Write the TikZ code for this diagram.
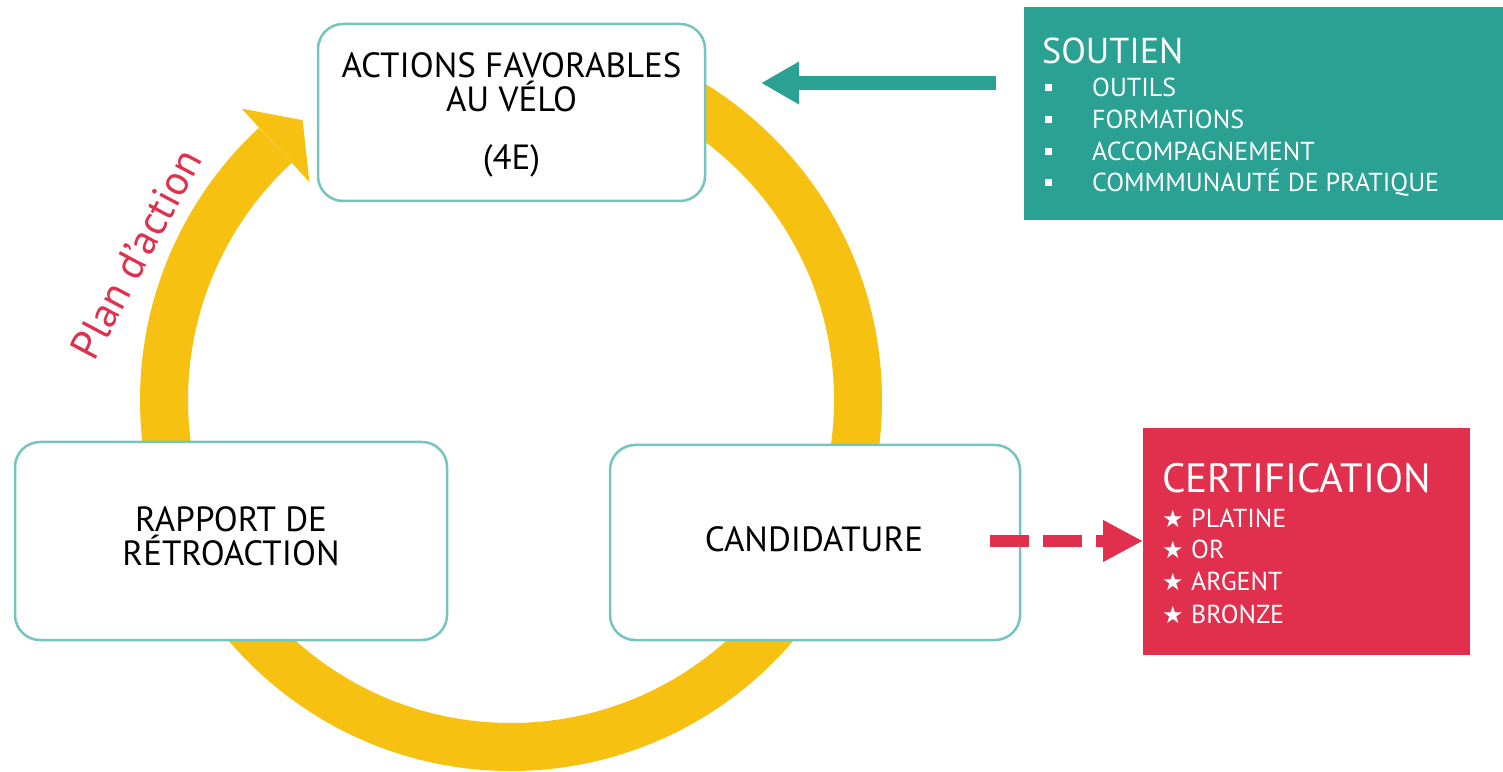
\documentclass[tikz,border=0pt]{standalone}
\usepackage{fontspec}
\setmainfont{PT Sans}
\newfontfamily\symfont{DejaVu Sans}
\usetikzlibrary{arrows.meta}
\definecolor{ylw}{HTML}{F7C111}
\definecolor{tealc}{HTML}{2AA193}
\definecolor{redc}{HTML}{E0304D}
\definecolor{bordc}{HTML}{74C5C0}
\tikzset{
  stagebox/.style={draw=bordc, line width=2.5pt, rounded corners=25pt, fill=white, inner sep=0pt},
  stagetext/.style={anchor=base, font=\fontsize{35}{40}\selectfont, text=black, inner sep=0pt},
  panel/.style={anchor=south west, inner sep=0pt},
  headtext/.style={anchor=base west, text=white, inner sep=0pt},
  itemtext/.style={anchor=base west, text=white, inner sep=0pt, font=\fontsize{26}{30}\selectfont},
  sqbullet/.style={fill=white, minimum size=7pt, inner sep=0pt},
  startext/.style={anchor=base west, text=white, inner sep=0pt, font=\symfont\fontsize{24}{26}\selectfont},
}
\begin{document}
\begin{tikzpicture}[x=1pt,y=1pt]
\useasboundingbox (0,0) rectangle (1503,771);
% cycle ring
\draw[ylw, line width=48pt] (511,371) ++(90:347) arc[start angle=90, end angle=-227.2, radius=347];
\fill[ylw] (241.5,662.4) -- (302.6,650.8) -- (309.4,589) -- cycle;
% stage boxes
\node[stagebox, minimum width=387pt, minimum height=177pt] (top) at (511.5,658.5) {};
\node[stagebox, minimum width=432pt, minimum height=198pt] (left) at (231,230) {};
\node[stagebox, minimum width=410pt, minimum height=195pt] (right) at (815,228.5) {};
\node[stagetext] (t1) at (511.5,693) {ACTIONS FAVORABLES};
\node[stagetext] (t2) at (511.5,659) {AU VÉLO};
\node[stagetext] (t3) at (511.5,601) {(4E)};
\node[stagetext] (l1) at (231,239) {RAPPORT DE};
\node[stagetext] (l2) at (231,205) {RÉTROACTION};
\node[stagetext] (r1) at (814,219) {CANDIDATURE};
% plan d'action
\node[rotate=62, text=redc, font=\fontsize{42}{44}\selectfont, inner sep=0pt] (plan) at (136,517) {Plan d’action};
% soutien panel
\node[panel, fill=tealc, minimum width=479pt, minimum height=213pt] (soutien) at (1024,551) {};
\node[headtext, font=\fontsize{36}{40}\selectfont] (sh) at (1042,707) {SOUTIEN};
\node[itemtext] (s1) at (1092,674) {OUTILS};
\node[itemtext] (s2) at (1092,642) {FORMATIONS};
\node[itemtext] (s3) at (1092,610) {ACCOMPAGNEMENT};
\node[itemtext] (s4) at (1092,579) {COMMMUNAUTÉ DE PRATIQUE};
\node[sqbullet] (b1) at (1048.5,683) {};
\node[sqbullet] (b2) at (1048.5,651) {};
\node[sqbullet] (b3) at (1048.5,619) {};
\node[sqbullet] (b4) at (1048.5,588) {};
% certification panel
\node[panel, fill=redc, minimum width=327pt, minimum height=227pt] (cert) at (1143,116) {};
\node[headtext, font=\fontsize{41}{44}\selectfont] (ch) at (1162,278) {CERTIFICATION};
\node[startext] (k1) at (1162,243) {★};
\node[startext] (k2) at (1162,212) {★};
\node[startext] (k3) at (1162,180) {★};
\node[startext] (k4) at (1162,148) {★};
\node[itemtext] (c1) at (1191,243) {PLATINE};
\node[itemtext] (c2) at (1191,212) {OR};
\node[itemtext] (c3) at (1191,180) {ARGENT};
\node[itemtext] (c4) at (1191,148) {BRONZE};
% connectors
\coordinate (ta) at (996,688);
\coordinate (tb) at (761,688);
\draw[tealc, line width=14pt, -{Triangle[length=38pt, width=40pt]}] (ta) -- (tb);
\coordinate (ra) at (990,230);
\draw[redc, line width=12pt, dash pattern=on 39pt off 14pt, -{Triangle[length=40pt, width=39pt]}] (ra) -- (cert.west |- ra);
\end{tikzpicture}
\end{document}
